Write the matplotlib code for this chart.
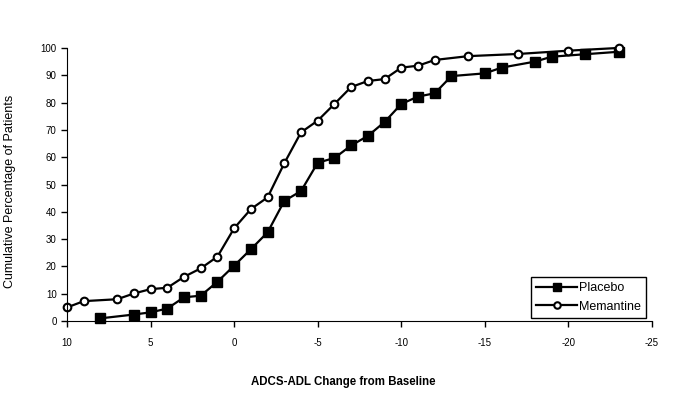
import numpy as np
import matplotlib.pyplot as plt

plt.rcParams['font.family'] = ['Liberation Sans', 'DejaVu Sans']
plt.rcParams['axes.unicode_minus'] = False

# ADCS-ADL change from baseline and cumulative % of patients
placebo_x = [8, 6, 5, 4, 3, 2, 1, 0, -1, -2, -3, -4, -5, -6, -7, -8, -9, -10,
             -11, -12, -13, -15, -16, -18, -19, -21, -23]
placebo_y = [1, 2.4, 3.2, 4.6, 8.7, 9.3, 14.4, 20.3, 26.3, 32.5, 44, 47.6, 58,
             59.7, 64.3, 67.8, 72.9, 79.5, 82.2, 83.4, 89.7, 90.7, 92.8, 95,
             96.8, 97.7, 98.6]

memantine_x = [10, 9, 7, 6, 5, 4, 3, 2, 1, 0, -1, -2, -3, -4, -5, -6, -7, -8,
               -9, -10, -11, -12, -14, -17, -20, -23]
memantine_y = [5, 7.3, 8, 10.1, 11.7, 12.2, 16.2, 19.3, 23.6, 34, 41, 45.3,
               57.8, 69.1, 73.4, 79.5, 85.7, 87.9, 88.6, 92.8, 93.5, 95.6, 97,
               97.8, 99, 100]

fig = plt.figure(figsize=(6.75, 3.93), dpi=100)
ax = fig.add_axes([0.0993, 0.183, 0.8667, 0.695])

ax.plot(placebo_x, placebo_y, 'k-', marker='s', markersize=6.5, lw=1.6,
        clip_on=False, label="Placebo")
ax.plot(memantine_x, memantine_y, 'k-', marker='o', markersize=5.5, lw=1.6,
        markerfacecolor='white', markeredgewidth=1.5, clip_on=False,
        label="Memantine")

ax.set_xlim(10, -25)
ax.set_ylim(0, 100)
ax.set_xticks(np.arange(10, -26, -5))
ax.set_yticks(np.arange(0, 101, 10))
for s in ['top', 'right']:
    ax.spines[s].set_visible(False)
ax.tick_params(labelsize=7, length=4, width=1, direction='out')
ax.tick_params(axis='x', pad=8)

ax.set_xlabel("ADCS-ADL Change from Baseline", fontsize=8.3, fontweight='bold')
ax.xaxis.set_label_coords(0.472, -0.2)
ax.set_ylabel("Cumulative Percentage of Patients", fontsize=9)
ax.yaxis.set_label_coords(-0.087, 0.475)

leg = ax.legend(loc='lower right', bbox_to_anchor=(0.99, 0.01), fontsize=9,
                fancybox=False, framealpha=1, edgecolor='black',
                borderpad=0.45, handlelength=3.3, handletextpad=0.1,
                labelspacing=0.5, borderaxespad=0, markerscale=0.85)
leg.get_frame().set_linewidth(1)

plt.savefig("out.png", dpi=100)
